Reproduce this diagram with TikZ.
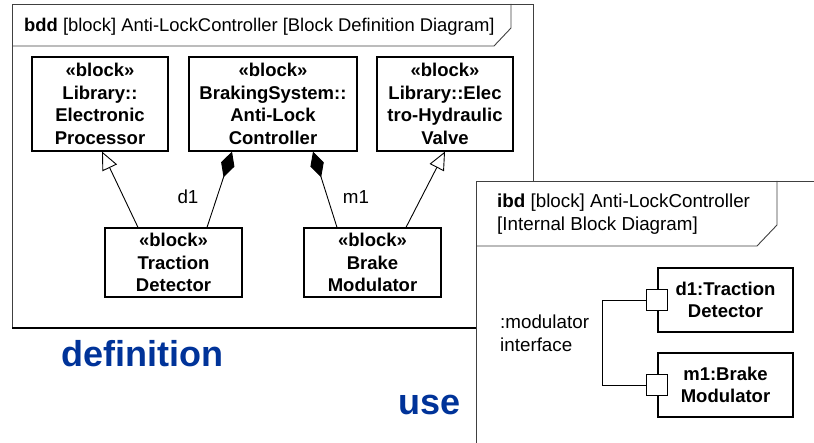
\documentclass[tikz,border=0pt]{standalone}
\usepackage{fontspec}
\setmainfont{Liberation Sans}
\usetikzlibrary{arrows.meta,calc}
\definecolor{sysblue}{RGB}{0,51,153}
\definecolor{framegray}{RGB}{64,64,64}
\tikzset{
  frame/.style={draw=framegray, line width=0.9pt},
  block/.style={draw=black, line width=1.2pt, fill=white, align=center,
    inner sep=0pt, font=\bfseries\fontsize{18.5}{22.5}\selectfont},
  port/.style={draw=black, line width=1pt, fill=white, minimum width=21pt,
    minimum height=21pt, inner sep=0pt},
  conn/.style={draw=black, line width=0.9pt},
  gen/.style={conn, -{Triangle[open, length=18pt, width=16pt, line width=0.9pt]}},
  comp/.style={conn, -{Diamond[length=27pt, width=14pt]}},
  plain/.style={inner sep=0pt, font=\fontsize{18.8}{23}\selectfont},
  banner/.style={inner sep=0pt, text=sysblue, font=\bfseries\fontsize{36}{40}\selectfont}
}
\begin{document}
\begin{tikzpicture}[x=1pt, y=-1pt]
\useasboundingbox (0,0) rectangle (814,443);

% block definition diagram frame
\draw[frame] (12,4) rectangle (533,328);
\draw[line width=1.8pt, black] (12,328) -- (533,328);
\draw[frame] (12,46) -- (494,46) -- (511,28) -- (511,4);
\node[plain, anchor=base west, font=\fontsize{18.4}{23}\selectfont] (bddtitle) at (24,32)
  {\textbf{bdd} [block] Anti-LockController [Block Definition Diagram]};

% blocks
\node[block, minimum width=136pt, minimum height=94pt] (ep) at (100,104)
  {«block»\\Library::\\Electronic\\Processor};
\node[block, minimum width=168pt, minimum height=94pt] (bs) at (273,104)
  {«block»\\BrakingSystem::\\Anti-Lock\\Controller};
\node[block, minimum width=136pt, minimum height=94pt] (hv) at (445,104)
  {«block»\\Library::Elec\\tro-Hydraulic\\Valve};
\node[block, minimum width=137pt, minimum height=69pt] (td) at (173.5,262.5)
  {«block»\\Traction\\Detector};
\node[block, minimum width=137pt, minimum height=69pt] (bm) at (372.5,262.5)
  {«block»\\Brake\\Modulator};

% generalizations and compositions
\draw[gen]  ([xshift=-35.5pt]td.north) -- ([xshift=2pt]ep.south);
\draw[comp] ([xshift=33.5pt]td.north)  -- ([xshift=-41pt]bs.south);
\draw[comp] ([xshift=-35.5pt]bm.north) -- ([xshift=40pt]bs.south);
\draw[gen]  ([xshift=33.5pt]bm.north)  -- (hv.south);
\node[plain] (lbld) at (188,197) {d1};
\node[plain] (lblm) at (356,197) {m1};

% banners
\node[banner, anchor=base west] (defn) at (61,367) {definition};
\node[banner, anchor=base west] (usage) at (398,414) {use};

% internal block diagram frame
\fill[white] (476,181) rectangle (814,443);
\draw[frame] (814,181) -- (476,181) -- (476,443);
\draw[frame] (476,246) -- (757,246) -- (777,225) -- (777,181);
\node[plain, anchor=north west, align=left] (ibdtitle) at (497,193.5)
  {\textbf{ibd} [block] Anti-LockController\\{[Internal Block Diagram]}};

% parts and ports
\node[block, minimum width=135pt, minimum height=64pt] (d1) at (725.5,300)
  {d1:Traction\\Detector};
\node[block, minimum width=135pt, minimum height=64pt] (m1) at (725.5,385)
  {m1:Brake\\Modulator};
\node[port] (p1) at (d1.west) {};
\node[port] (p2) at (m1.west) {};
\draw[conn] (p1.west) -- ++(-44,0) |- (p2.west);
\node[plain, anchor=north west, align=left] (iflbl) at (500,315)
  {:modulator\\interface};
\end{tikzpicture}
\end{document}
